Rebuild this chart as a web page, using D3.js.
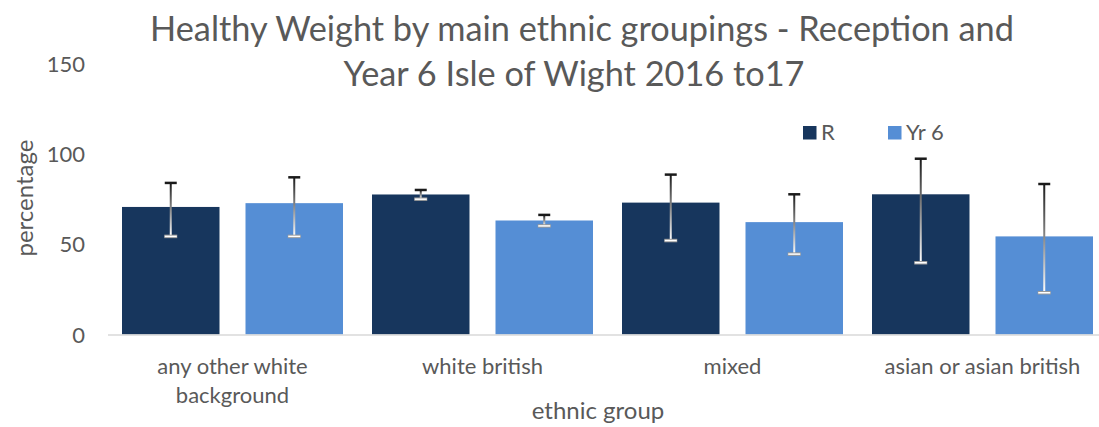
<!DOCTYPE html>
<html>
<head>
<meta charset="utf-8">
<script src="https://cdn.jsdelivr.net/npm/d3@7"></script>
<style>
  html, body { margin: 0; padding: 0; background: #fff; }
  svg { display: block; font-family: Lato, "Open Sans", sans-serif; }
</style>
</head>
<body>
<svg id="chart" width="1099" height="427"></svg>
<script>
const categories = ["any other white background", "white british", "mixed", "asian or asian british"];
const seriesNames = ["R", "Yr 6"];
const valuesR = [70.6, 77.5, 73.0, 77.6];
const valuesYr6 = [72.7, 63.1, 62.2, 54.3];
const upperR = [83.9, 80.0, 88.5, 97.3];
const lowerR = [54.3, 74.9, 52.0, 39.7];
const upperYr6 = [87.0, 66.2, 77.6, 83.3];
const lowerYr6 = [54.3, 60.1, 44.5, 23.1];
const yTicks = [0, 50, 100, 150];
const titleLines = ["Healthy Weight by main ethnic groupings - Reception and", "Year 6 Isle of Wight 2016 to17"];

const colors = {"R": "#17365d", "Yr 6": "#558ed5"};
const textColor = "#595959";

const svg = d3.select("#chart");

const rows = [];
categories.forEach((c, i) => {
  rows.push({cat: c, s: "R", v: valuesR[i], hi: upperR[i], lo: lowerR[i]});
  rows.push({cat: c, s: "Yr 6", v: valuesYr6[i], hi: upperYr6[i], lo: lowerYr6[i]});
});

const x0 = d3.scaleBand().domain(categories).range([107.5, 1107.5]).paddingInner(0).paddingOuter(0);
const x1 = d3.scaleBand().domain(seriesNames).range([0, x0.bandwidth()]).paddingInner(0.2105).paddingOuter(0.1174);
const y = d3.scaleLinear().domain([0, 150]).range([334.5, 63.5]);

// gradient for error bar stems
const defs = svg.append("defs");
const grad = defs.append("linearGradient").attr("id", "errGrad")
  .attr("x1", 0).attr("y1", 0).attr("x2", 0).attr("y2", 1);
grad.append("stop").attr("offset", "0%").attr("stop-color", "#1a1a1a");
grad.append("stop").attr("offset", "100%").attr("stop-color", "#ffffff");

// Title
svg.append("g").selectAll("text").data(titleLines).join("text")
  .attr("x", (d, i) => i === 0 ? 582 : 574)
  .attr("y", (d, i) => 41 + i * 45)
  .attr("text-anchor", "middle")
  .attr("fill", textColor)
  .attr("font-size", 34.3)
  .text(d => d);

// Y axis
const yAxis = d3.axisLeft(y).tickValues(yTicks).tickSize(0).tickPadding(0);
const gy = svg.append("g").attr("transform", "translate(85,0)").call(yAxis);
gy.select(".domain").remove();
gy.selectAll("text").attr("fill", textColor).attr("font-size", 22).attr("font-family", "Lato, sans-serif").attr("dy", "0.35em");

// Bars
svg.append("g").selectAll("rect").data(rows).join("rect")
  .attr("x", d => x0(d.cat) + x1(d.s))
  .attr("y", d => y(d.v))
  .attr("width", x1.bandwidth())
  .attr("height", d => y(0) - y(d.v))
  .attr("fill", d => colors[d.s]);

// X axis
const xAxis = d3.axisBottom(x0).tickSize(0).tickPadding(0);
const gx = svg.append("g").attr("transform", `translate(0,${y(0)})`).call(xAxis);
gx.select(".domain").attr("stroke", "#d9d9d9").attr("stroke-width", 1.5);
gx.selectAll("text").attr("fill", textColor).attr("font-size", 22).attr("font-family", "Lato, sans-serif")
  .attr("dy", null).attr("y", 0)
  .each(function(d) {
    const t = d3.select(this);
    const words = d.split(" ");
    const lines = [];
    let line = [];
    const tmp = svg.append("text").attr("font-size", 22).attr("font-family", "Lato, sans-serif");
    words.forEach(w => {
      const test = line.concat([w]).join(" ");
      tmp.text(test);
      if (tmp.node().getComputedTextLength() > 230 && line.length) {
        lines.push(line.join(" "));
        line = [w];
      } else line.push(w);
    });
    lines.push(line.join(" "));
    tmp.remove();
    t.text(null);
    lines.forEach((l, i) => {
      t.append("tspan").attr("x", 0).attr("y", 39 + i * 29).text(l);
    });
  });

// Error bars
const eb = svg.append("g").selectAll("g").data(rows).join("g")
  .attr("transform", d => `translate(${x0(d.cat) + x1(d.s) + x1.bandwidth() / 2},0)`);
eb.append("rect")
  .attr("x", -1).attr("width", 2)
  .attr("y", d => y(d.hi)).attr("height", d => y(d.lo) - y(d.hi))
  .attr("fill", "url(#errGrad)");
eb.append("line")
  .attr("x1", -6).attr("x2", 6)
  .attr("y1", d => y(d.hi)).attr("y2", d => y(d.hi))
  .attr("stroke", "#1a1a1a").attr("stroke-width", 2.5);
eb.append("line")
  .attr("x1", -6.5).attr("x2", 6.5)
  .attr("y1", d => y(d.lo)).attr("y2", d => y(d.lo))
  .attr("stroke", "#9a9a9a").attr("stroke-width", 3.5);
eb.append("line")
  .attr("x1", -6).attr("x2", 6)
  .attr("y1", d => y(d.lo)).attr("y2", d => y(d.lo))
  .attr("stroke", "#ffffff").attr("stroke-width", 1.5);

// Axis titles
svg.append("text")
  .attr("transform", "translate(33,198) rotate(-90)")
  .attr("text-anchor", "middle")
  .attr("fill", textColor).attr("font-size", 24)
  .text("percentage");
svg.append("text")
  .attr("x", 598).attr("y", 419)
  .attr("text-anchor", "middle")
  .attr("fill", textColor).attr("font-size", 24)
  .text("ethnic group");

// Legend
const legend = svg.append("g").selectAll("g").data(seriesNames).join("g")
  .attr("transform", (d, i) => `translate(${i === 0 ? 803 : 888},126)`);
legend.append("rect").attr("width", 13.5).attr("height", 13.5).attr("fill", d => colors[d]);
legend.append("text").attr("x", 18).attr("y", 13.5)
  .attr("fill", textColor).attr("font-size", 22).text(d => d);
</script>
</body>
</html>
